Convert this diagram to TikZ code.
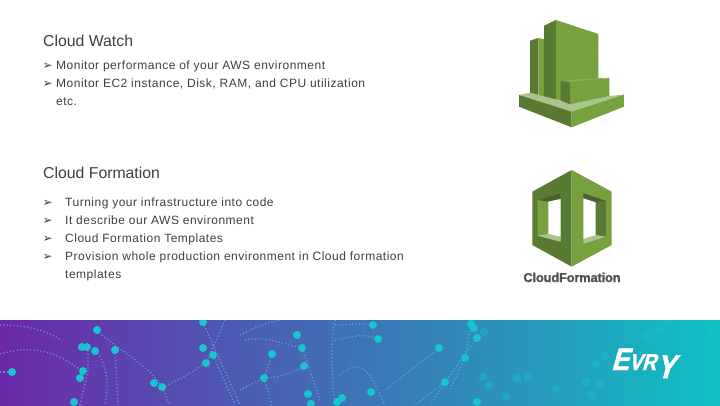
\documentclass[tikz,border=0pt]{standalone}
\usepackage{fontspec}
\setmainfont{Liberation Sans}
\newfontfamily\bodyfont[LetterSpace=4.2]{Liberation Sans}
\newfontfamily\bulletfont{DejaVu Sans}
\newfontfamily\cffont[FakeBold=1.2,LetterSpace=-1]{Liberation Sans Bold}
\newfontfamily\logofont[FakeStretch=.85,FakeSlant=.28,FakeBold=1.5]{Liberation Sans Bold}
\definecolor{txt}{HTML}{3F3F3F}
\definecolor{gdark}{HTML}{587A33}
\definecolor{gmid}{HTML}{77A03F}
\definecolor{gtop}{HTML}{8BB056}
\definecolor{glight}{HTML}{A9C48C}
\definecolor{gdeep}{HTML}{4B612C}
\definecolor{dotc}{HTML}{16C6CC}
\definecolor{linec}{HTML}{5FC0E8}
\tikzset{
  title/.style={anchor=base west,inner sep=0pt,text=txt,font=\fontsize{15.8}{18}\selectfont},
  body/.style={anchor=base west,inner sep=0pt,text=txt,font=\fontsize{12}{14}\bodyfont},
  bullet/.style={anchor=base west,inner sep=0pt,text=txt,font=\fontsize{12}{14}\bulletfont},
  dotpt/.style={circle,fill=dotc,inner sep=0pt,minimum size=8pt},
  fadept/.style={circle,fill=dotc,inner sep=0pt,minimum size=8.5pt,opacity=.4},
  trail/.style={linec,line width=1.2pt,dash pattern=on 1.2pt off 2.2pt,opacity=.7}
}
\begin{document}
\begin{tikzpicture}[x=1pt,y=-1pt]
\useasboundingbox (0,0) rectangle (720,405);
\fill[white] (0,0) rectangle (720,405);
% text
\node[title] (t1) at (43,46) {Cloud Watch};
\node[bullet] (b1) at (42.5,69) {➢};
\node[body] (l1) at (56,69) {Monitor performance of your AWS environment};
\node[bullet] (b2) at (42.5,87) {➢};
\node[body] (l2) at (56,87) {Monitor EC2 instance, Disk, RAM, and CPU utilization};
\node[body] (l3) at (56,105) {etc.};
\node[title] (t2) at (43,178) {Cloud Formation};
\node[bullet] (b3) at (42.5,206) {➢};
\node[body] (m1) at (65,206) {Turning your infrastructure into code};
\node[bullet] (b4) at (42.5,224) {➢};
\node[body] (m2) at (65,224) {It describe our AWS environment};
\node[bullet] (b5) at (42.5,242) {➢};
\node[body] (m3) at (65,242) {Cloud Formation Templates};
\node[bullet] (b6) at (42.5,260) {➢};
\node[body] (m4) at (65,260) {Provision whole production environment in Cloud formation};
\node[body] (m5) at (65,278) {templates};
% CloudWatch icon
\begin{scope}[shift={(500,10)},x=.3333pt,y=-.3333pt]
\fill[gdark] (90,92)--(115,84)--(115,258)--(90,252)--cycle;
\fill[gmid] (115,84)--(133,88)--(133,262)--(115,258)--cycle;
\fill[gdark] (132,47)--(168,30)--(168,272)--(132,262)--cycle;
\fill[gmid] (168,30)--(295,72)--(295,262)--(168,272)--cycle;
\fill[glight] (57,255)--(90,248)--(182,272)--(210,283)--(328,258)--(372,254)--(215,305)--cycle;
\fill[gdark] (57,255)--(215,305)--(215,352)--(57,290)--cycle;
\fill[gmid] (215,305)--(372,254)--(372,290)--(215,352)--cycle;
\fill[gdark] (182,213)--(210,215)--(210,283)--(182,272)--cycle;
\fill[gmid] (210,215)--(328,204)--(328,258)--(210,283)--cycle;
\fill[gtop] (182,213)--(295,204)--(328,204)--(210,215)--cycle;
\end{scope}
% CloudFormation icon
\begin{scope}[shift={(500,160)},x=.3333pt,y=-.3333pt]
\fill[gdark] (215,30)--(97,95)--(97,255)--(215,320)--cycle;
\fill[gmid] (215,30)--(335,95)--(335,255)--(215,320)--cycle;
\fill[gmid] (112,120)--(182,100)--(182,245)--(112,227)--cycle;
\fill[gdeep] (112,120)--(182,100)--(182,117)--(145,125)--cycle;
\fill[glight] (112,227)--(182,245)--(182,230)--(145,222)--cycle;
\fill[white] (145,125)--(182,117)--(182,230)--(145,222)--cycle;
\fill[gdark] (250,100)--(318,123)--(318,230)--(250,252)--cycle;
\fill[gdeep] (250,100)--(318,123)--(287,127)--(250,115)--cycle;
\fill[glight] (250,252)--(318,230)--(287,225)--(250,237)--cycle;
\fill[white] (250,115)--(287,127)--(287,225)--(250,237)--cycle;
\end{scope}
\node[anchor=base,inner sep=0pt,text=black!68,font=\fontsize{12.8}{14}\cffont] (cf) at (572,282) {CloudFormation};
% banner
\fill[left color={rgb,255:red,108;green,40;blue,170},middle color={rgb,255:red,62;green,112;blue,190},right color={rgb,255:red,15;green,192;blue,195}] (0,320) rectangle (720,405);
\begin{scope}
\clip (0,320) rectangle (720,405);
\draw[trail] (0,354) .. controls (30,345) and (55,350) .. (82,371);
\draw[trail] (0,325) .. controls (30,325) and (50,332) .. (62,341);
\draw[trail] (97,330) .. controls (110,345) and (150,365) .. (162,387);
\draw[trail] (88,347) -- (88,371) -- (80,405);
\draw[trail] (115,350) -- (118,405);
\draw[trail] (95,351) .. controls (105,360) and (110,380) .. (105,405);
\draw[trail] (0,372) -- (12,372);
\draw[trail] (162,387) .. controls (180,380) and (195,370) .. (206,363);
\draw[trail] (162,387) -- (170,405);
\draw[trail] (203,322) -- (240,405);
\draw[trail] (213,355) -- (235,405);
\draw[trail] (225,320) -- (206,363);
\draw[trail] (240,335) .. controls (260,325) and (270,322) .. (280,320);
\draw[trail] (245,340) .. controls (265,335) and (285,345) .. (302,348);
\draw[trail] (272,354) -- (264,378) -- (240,390);
\draw[trail] (264,378) .. controls (280,378) and (295,372) .. (304,366);
\draw[trail] (264,378) -- (272,405);
\draw[trail] (302,348) -- (320,400);
\draw[trail] (335,320) .. controls (330,345) and (332,380) .. (335,405);
\draw[trail] (335,340) .. controls (350,338) and (360,332) .. (378,339);
\draw[trail] (335,325) .. controls (350,325) and (360,322) .. (373,325);
\draw[trail] (340,375) .. controls (365,355) and (370,375) .. (385,405);
\draw[trail] (445,382) -- (415,405);
\draw[trail] (439,348) -- (385,390);
\draw[trail] (477,338) -- (445,382) -- (430,405);
\draw[trail] (471,324) -- (465,358) -- (450,390);
\foreach \a/\b [count=\i] in {97/330,82/347,87/347,95/351,115/350,12/372,83/371,80/378,74/402,154/383,162/387,203/322,203/348,213/355,206/363,373/325,378/339,297/335,302/348,272/354,304/366,264/378,308/394,311/404,342/398,337/402,371/392,439/348,465/358,445/382,471/324,474/328,477/338,477/402}
  \node[dotpt] (d\i) at (\a,\b) {};
\foreach \a/\b [count=\i] in {484/332,483/377,489/385,506/397,517/378,528/377,556/389,586/382,600/384,592/395,596/364,605/356,646/336,660/331,668/322,710/333}
  \node[fadept] (f\i) at (\a,\b) {};
\end{scope}
% logo
\node[anchor=base west,inner sep=0pt,text=white,font=\logofont] (evry) at (611,370) {\fontsize{31}{32}\selectfont E\fontsize{23}{26}\selectfont VR\raisebox{-8pt}{\fontsize{33}{36}\selectfont Y}};
\end{tikzpicture}
\end{document}
